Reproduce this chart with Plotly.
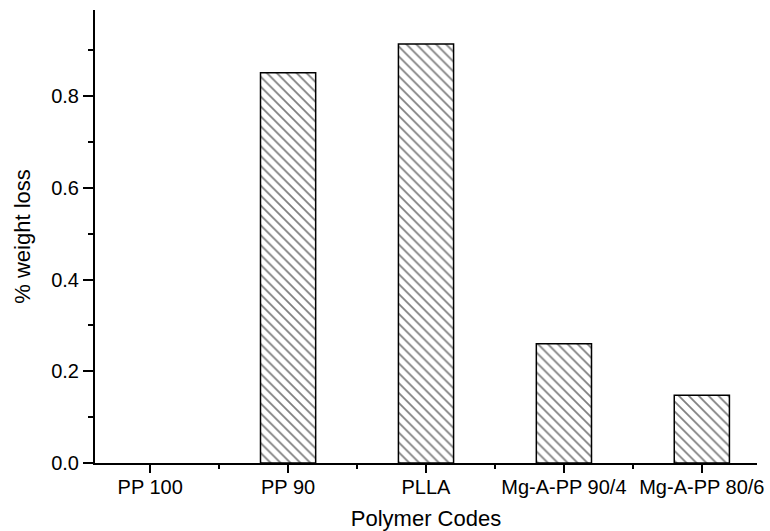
import plotly.graph_objects as go

categories = ["PP 100", "PP 90", "PLLA", "Mg-A-PP 90/4", "Mg-A-PP 80/6"]
weight_loss = [0.0, 0.851, 0.914, 0.26, 0.148]

x_pos = list(range(len(categories)))

fig = go.Figure()
fig.add_trace(go.Bar(
    x=x_pos,
    y=weight_loss,
    width=0.4,
    marker=dict(
        color="white",
        line=dict(color="black", width=[0 if v == 0 else 1.5 for v in weight_loss]),
        pattern=dict(shape="\\", fgcolor="black", bgcolor="white", size=7, solidity=0.25),
    ),
    showlegend=False,
))

font = "Liberation Sans, Arial, sans-serif"
fig.update_layout(
    width=770, height=531,
    margin=dict(l=95, r=13, t=10, b=68),
    plot_bgcolor="white", paper_bgcolor="white",
    font=dict(family=font, size=20, color="black"),
    xaxis=dict(
        range=[-0.4, 4.4],
        automargin=False,
        tickvals=x_pos, ticktext=categories,
        showline=True, linecolor="black", linewidth=2,
        ticks="outside", ticklen=8, tickwidth=2, tickcolor="black",
        ticklabelstandoff=-3,
        minor=dict(ticks="outside", dtick=0.5, tick0=0.5, ticklen=4, tickwidth=2, tickcolor="black"),
        showgrid=False, zeroline=False,
        title=dict(text="Polymer Codes", font=dict(size=22), standoff=15),
        tickfont=dict(size=20),
    ),
    yaxis=dict(
        range=[0, 0.988],
        automargin=False,
        dtick=0.2, tick0=0, tickformat=".1f",
        showline=True, linecolor="black", linewidth=2,
        ticks="outside", ticklen=10, tickwidth=2, tickcolor="black",
        minor=dict(ticks="outside", dtick=0.1, ticklen=5, tickwidth=2, tickcolor="black"),
        showgrid=False, zeroline=False,
        title=dict(text="% weight loss", font=dict(size=22), standoff=14),
        tickfont=dict(size=20),
    ),
)

fig.write_html("out.html")
